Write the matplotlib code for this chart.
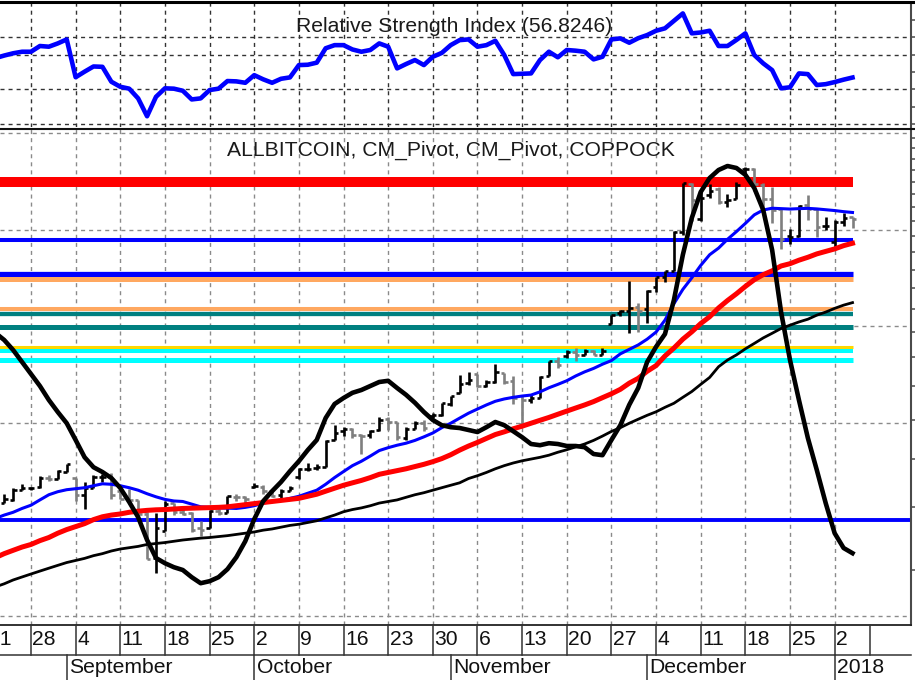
import numpy as np
import pandas as pd
import matplotlib
matplotlib.use("Agg")
import matplotlib.pyplot as plt
from matplotlib.collections import LineCollection
from matplotlib.lines import Line2D
from matplotlib.ticker import FixedLocator, NullLocator, NullFormatter
from matplotlib.transforms import offset_copy

plt.rcParams["font.family"] = ["Liberation Sans", "DejaVu Sans"]

# ---------------- data ----------------
dates = pd.bdate_range("2017-08-21", "2018-01-04")
dates = dates[dates != pd.Timestamp("2018-01-01")]
axis_next_week = pd.Timestamp("2018-01-08")

opens = [4090, 4000, 4090, 4140, 4330, 4380, 4390, 4590, 4570, 4700,
         4590, 4230, 4380, 4600, 4600, 4320, 4170, 4130, 3880, 3170,
         3590, 4080, 3920, 3900, 3630, 3630, 3930, 3890, 4200, 4200,
         4400, 4400, 4310, 4230, 4320, 4610, 4780, 4790, 4830, 5460,
         5690, 5740, 5600, 5580, 5710, 6010, 5940, 5520, 5750, 5900,
         6110, 6130, 6440, 6780, 7090, 7400, 7020, 7140, 7450, 7170,
         5880, 6560, 6630, 7330, 7850, 8040, 8210, 8080, 8230, 8070,
         9350, 9820, 9900, 10080, 10000, 11080, 11600, 11900, 14270, 17800,
         15170, 16920, 17400, 16380, 16600, 19100, 19120, 17760, 16640, 15900,
         14000, 14000, 16160, 15860, 14700, 13620, 14980, 15270]
highs = [4110, 4130, 4250, 4370, 4450, 4400, 4630, 4650, 4750, 4890,
         4590, 4490, 4650, 4660, 4680, 4380, 4350, 4130, 3920, 3900,
         4120, 4090, 4030, 3920, 3760, 3950, 3970, 4210, 4260, 4210,
         4470, 4430, 4350, 4360, 4420, 4790, 4900, 4880, 5450, 5850,
         5790, 5760, 5610, 5720, 6060, 6070, 5940, 5800, 5970, 5990,
         6180, 6470, 6700, 7370, 7460, 7420, 7200, 7770, 7450, 7330,
         6730, 6740, 7330, 7880, 8000, 8270, 8370, 8300, 8270, 8370,
         9720, 9970, 11400, 10270, 10940, 11600, 11920, 14370, 17900, 17900,
         17400, 17780, 17570, 17010, 18000, 19290, 19180, 17940, 17570, 15940,
         14480, 16150, 16930, 15890, 15280, 15100, 15570, 15280]
lows = [3990, 3600, 4080, 4110, 4330, 4330, 4380, 4520, 4570, 4700,
        4110, 3970, 4380, 4500, 4160, 4150, 4060, 3760, 3150, 2950,
        3590, 3870, 3870, 3570, 3510, 3630, 3870, 3890, 4110, 4000,
        4380, 4250, 4200, 4170, 4320, 4560, 4730, 4760, 4830, 5450,
        5570, 5500, 5110, 5520, 5700, 5730, 5450, 5450, 5750, 5690,
        6040, 6100, 6380, 6780, 7040, 6960, 6990, 7120, 7060, 6440,
        5880, 6470, 6630, 7330, 7600, 7980, 7850, 8080, 8090, 8070,
        9350, 9680, 8940, 9000, 9380, 10800, 11340, 11900, 14060, 15000,
        15000, 16690, 16270, 16040, 16600, 18420, 17280, 15660, 14870, 13200,
        13480, 13930, 15110, 13940, 14420, 13240, 14700, 14540]
closes = [4000, 4100, 4150, 4330, 4370, 4380, 4580, 4570, 4740, 4890,
          4230, 4380, 4600, 4600, 4230, 4160, 4130, 3880, 3150, 3640,
          4070, 3920, 3880, 3610, 3600, 3930, 3890, 4210, 4190, 4160,
          4410, 4310, 4210, 4320, 4370, 4770, 4780, 4830, 5430, 5650,
          5750, 5600, 5570, 5700, 6000, 5930, 5530, 5750, 5900, 5780,
          6130, 6470, 6700, 7080, 7210, 7000, 7140, 7460, 7140, 6620,
          6560, 6640, 7320, 7870, 7710, 8200, 8070, 8250, 8100, 8250,
          9720, 9890, 10060, 9900, 10860, 11600, 11900, 14290, 17900, 16570,
          16730, 17280, 16410, 16570, 17710, 19110, 17780, 16620, 15800, 13830,
          13950, 16100, 15840, 14610, 14660, 14980, 15200, 15160]

rsi = [66.5, 68.0, 69.5, 70.8, 71.7, 71.7, 75.0, 74.6, 76.5, 78.8,
       57.0, 60.2, 63.2, 63.0, 54.4, 51.5, 50.4, 44.8, 34.5, 45.7,
       50.6, 50.4, 49.2, 44.2, 44.8, 49.6, 50.4, 54.8, 54.6, 53.8,
       58.2, 55.8, 53.8, 56.1, 56.9, 64.0, 64.2, 65.4, 73.7, 75.5,
       75.5, 73.0, 71.7, 72.7, 76.5, 74.6, 62.1, 64.6, 66.9, 64.0,
       68.8, 71.0, 75.5, 78.4, 78.8, 74.6, 75.5, 78.0, 69.8, 58.8,
       59.0, 59.2, 66.9, 71.7, 68.5, 72.7, 72.3, 71.7, 67.3, 68.8,
       78.8, 79.4, 76.9, 79.5, 81.3, 83.8, 85.2, 89.5, 93.8, 82.3,
       82.8, 83.8, 75.0, 75.0, 78.5, 82.3, 69.8, 65.0, 61.1, 50.6,
       51.2, 59.2, 58.8, 52.5, 53.0, 54.2, 55.6, 56.8246]

ma_fast = [3740, 3800, 3860, 3910, 3980, 4040, 4140, 4240, 4300, 4340,
           4360, 4380, 4420, 4460, 4450, 4420, 4380, 4330, 4260, 4200,
           4150, 4120, 4110, 4060, 4010, 4000, 3990, 3985, 3980, 4000,
           4030, 4080, 4110, 4130, 4170, 4210, 4270, 4330, 4450, 4590,
           4720, 4850, 4950, 5070, 5200, 5270, 5330, 5380, 5450, 5540,
           5640, 5780, 5900, 6040, 6180, 6300, 6420, 6530, 6600, 6650,
           6690, 6720, 6820, 6950, 7060, 7180, 7340, 7480, 7600, 7750,
           7880, 8130, 8300, 8470, 8700, 8990, 9500, 10250, 10950, 11550,
           12230, 12850, 13250, 13800, 14300, 14850, 15450, 15800, 15930, 15900,
           15870, 15900, 15920, 15880, 15820, 15760, 15680, 15620]
ma_mid = [3120, 3170, 3230, 3280, 3330, 3370, 3430, 3480, 3550, 3610,
          3660, 3710, 3780, 3830, 3860, 3880, 3910, 3930, 3945, 3955,
          3960, 3970, 3980, 3985, 3990, 3995, 4000, 4010, 4030, 4050,
          4070, 4090, 4110, 4130, 4150, 4170, 4210, 4250, 4310, 4370,
          4430, 4480, 4530, 4590, 4660, 4700, 4740, 4780, 4830, 4880,
          4940, 5010, 5100, 5210, 5310, 5400, 5500, 5600, 5670, 5750,
          5820, 5900, 5980, 6060, 6150, 6240, 6330, 6420, 6520, 6640,
          6760, 6900, 7100, 7260, 7500, 7700, 8050, 8350, 8700, 9000,
          9350, 9650, 10050, 10400, 10730, 11100, 11450, 11720, 11930, 12200,
          12330, 12530, 12700, 12900, 13050, 13200, 13400, 13550]
ma_slow = [2730, 2770, 2810, 2860, 2900, 2940, 2980, 3020, 3060, 3100,
           3130, 3160, 3200, 3230, 3270, 3300, 3320, 3340, 3370, 3385,
           3400, 3420, 3440, 3455, 3470, 3480, 3495, 3510, 3530, 3550,
           3570, 3600, 3620, 3650, 3680, 3700, 3730, 3760, 3810, 3860,
           3920, 3960, 3990, 4030, 4080, 4110, 4140, 4190, 4240, 4280,
           4330, 4380, 4430, 4480, 4570, 4630, 4700, 4780, 4850, 4910,
           4960, 5000, 5040, 5090, 5160, 5220, 5290, 5360, 5450, 5560,
           5680, 5780, 5900, 6010, 6120, 6220, 6350, 6470, 6650, 6830,
           7060, 7290, 7660, 7900, 8090, 8320, 8530, 8750, 8940, 9140,
           9280, 9420, 9540, 9720, 9860, 10030, 10180, 10300]
coppock = [23.5, 21.8, 20.0, 17.5, 14.5, 11.5, 8.5, 5.0, 2.0, -0.8,
           -5.0, -9.3, -11.8, -13.0, -14.5, -17.0, -20.5, -24.3, -30.0, -34.5,
           -35.8, -36.8, -37.5, -39.3, -40.8, -40.3, -39.3, -37.3, -34.3, -30.3,
           -24.8, -20.3, -17.8, -15.5, -12.8, -10.3, -7.5, -5.0, 0.5, 4.0,
           5.5, 6.8, 7.5, 8.5, 9.5, 9.8, 8.0, 6.3, 4.3, 2.0,
           0.0, -1.3, -1.8, -2.0, -2.5, -3.0, -1.8, -0.5, -1.3, -2.8,
           -4.3, -6.0, -6.3, -5.8, -6.0, -6.5, -6.5, -6.8, -8.5, -8.8,
           -5.0, -1.3, 3.8, 8.0, 14.5, 18.3, 21.5, 30.0, 41.3, 50.5,
           57.0, 60.5, 62.5, 63.5, 63.0, 61.3, 58.0, 52.5, 42.5, 27.0,
           15.0, 5.0, -4.5, -12.5, -20.8, -28.3, -32.0, -33.3]

pivot_levels = [17955, 13772, 11755, 11475, 9985, 9794, 9209, 8377, 8249, 7895]
pivot_colors = ["#ff0000", "#0000ff", "#0000ff", "#ffa860", "#ffa860",
                "#008080", "#008080", "#ffd700", "#00ffff", "#00ffff"]
pivot_widths = [7.2, 2.9, 3.8, 3.6, 2.9, 3.1, 3.6, 2.2, 2.9, 3.6]
support_level = 3770

title_main = "ALLBITCOIN, CM_Pivot, CM_Pivot, COPPOCK"
title_rsi = "Relative Strength Index (56.8246)"

# ---------------- figure ----------------
W, H = 915, 680
fig = plt.figure(figsize=(W / 100, H / 100), dpi=100)
fig.patch.set_facecolor("white")

def fy(p):
    return 1 - p / H

RIGHT = 911 / W
ax_rsi = fig.add_axes([0, fy(127), RIGHT, 124 / H])
ax = fig.add_axes([0, fy(625), RIGHT, 496 / H])
ax_cop = ax.twinx()
ax_dates = fig.add_axes([0, 0, RIGHT, 55 / H])

x = np.arange(len(dates))
xlim = (1.53, 103.55)
FS = 15.2

iso = dates.isocalendar()
week_start = [i for i in range(len(dates))
              if i == 0 or iso.week.iloc[i] != iso.week.iloc[i - 1]]
month_start = [i for i in range(1, len(dates)) if dates[i].month != dates[i - 1].month]
extra_sep = len(dates) + len(pd.bdate_range(dates[-1] + pd.Timedelta(days=1), axis_next_week)) - 1

grid_main = dict(color="#8a8a8a", lw=1.0, ls=(0, (2.9, 2.9)), zorder=0.5)
grid_rsi = dict(color="#333333", lw=1.0, ls=(0, (2.9, 2.9)), zorder=0.5)

# ---------------- RSI panel ----------------
ax_rsi.plot(x, rsi, color="#0000ff", lw=3.3, solid_joinstyle="round", zorder=3)
ax_rsi.set_xlim(*xlim)
ax_rsi.set_ylim(28.3, 99.8)
for lvl in [30, 50, 70, 80]:
    ax_rsi.axhline(lvl, **grid_rsi)
for i in week_start:
    ax_rsi.axvline(i, **grid_rsi)
ax_rsi.text(454 / 911, 1 - (32.3 - 3) / 124, title_rsi, transform=ax_rsi.transAxes,
            ha="center", va="baseline", fontsize=FS, color="#1a1a1a", zorder=5)

# ---------------- price panel ----------------
ax.set_yscale("log")
ax.set_xlim(*xlim)
ax.set_ylim(2323, 22970)
for g in np.geomspace(22545, 2422, 6):
    ax.axhline(g, **grid_main)
for i in week_start:
    ax.axvline(i, **grid_main)

last = x[-1]
for lvl, c, w in zip(pivot_levels, pivot_colors, pivot_widths):
    ax.hlines(lvl, xlim[0] - 1, last, colors=c, lw=w, zorder=1.5)
ax.axhline(support_level, color="#0000ff", lw=2.8, zorder=1.5)

segs, cols = [], []
for i in range(len(dates)):
    prev = closes[i - 1] if i > 0 else opens[i]
    col = "#000000" if closes[i] >= prev else "#7f7f7f"
    segs += [[(i, lows[i]), (i, highs[i])],
             [(i - 0.38, opens[i]), (i, opens[i])],
             [(i, closes[i]), (i + 0.38, closes[i])]]
    cols += [col] * 3
ax.add_collection(LineCollection(segs, colors=cols, linewidths=1.9, zorder=2,
                                 capstyle="butt"))

ax.plot(x, ma_slow, color="#000000", lw=2.0, zorder=3)
ax.plot(x, ma_fast, color="#0000ff", lw=2.2, zorder=3.1)
ax.plot(x, ma_mid, color="#ff0000", lw=3.6, zorder=3.2)

ax_cop.plot(x, coppock, color="#000000", lw=3.3, solid_joinstyle="round", zorder=4)
ax_cop.set_ylim(-51.25, 72.75)
ax_cop.set_xlim(*xlim)
ax_cop.axis("off")

ax.text(451 / 911, 1 - (155.7 - 129) / 496, title_main, transform=ax.transAxes,
        ha="center", va="baseline", fontsize=FS, color="#1a1a1a", zorder=5)

# ---------------- axes styling ----------------
for a in (ax_rsi, ax):
    for s in ("left", "top"):
        a.spines[s].set_visible(False)
    a.spines["right"].set_color("#4a4a4a")
    a.spines["right"].set_linewidth(1.5)
    a.yaxis.tick_right()
    a.tick_params(axis="y", which="both", direction="out", length=3, width=1.1,
                  color="#4a4a4a", labelright=False, labelleft=False, left=False)
    a.tick_params(axis="x", which="both", bottom=False, labelbottom=False)
ax_rsi.spines["bottom"].set_visible(False)
ax.spines["bottom"].set_color("#222222")
ax.spines["bottom"].set_linewidth(1.3)
ax_rsi.yaxis.set_major_locator(FixedLocator(np.arange(30, 100, 10)))
ax_rsi.yaxis.set_minor_locator(NullLocator())
ax.yaxis.set_major_locator(FixedLocator(np.arange(3000, 24000, 1000)))
ax.yaxis.set_minor_locator(NullLocator())
ax.yaxis.set_major_formatter(NullFormatter())
ax.yaxis.set_minor_formatter(NullFormatter())

# frame lines (top border and panel separator)
fig.add_artist(Line2D([0, 1], [fy(1.5), fy(1.5)], transform=fig.transFigure,
                      color="#000000", lw=2.2))
fig.add_artist(Line2D([0, 1], [fy(128.8), fy(128.8)], transform=fig.transFigure,
                      color="#111111", lw=1.5))

# ---------------- date scale ----------------
ax_dates.set_xlim(*xlim)
ax_dates.set_ylim(0, 55)
ax_dates.axis("off")
sep_kw = dict(color="#333333", lw=1.1, clip_on=False)
ax_dates.axhline(25, **sep_kw)
for i in week_start + [extra_sep]:
    ax_dates.plot([i, i], [25, 55], **sep_kw)
for i in month_start:
    ax_dates.plot([i, i], [0, 25], **sep_kw)

tr_day = offset_copy(ax_dates.transData, fig=fig, x=1.5, y=0, units="dots")
tr_mon = offset_copy(ax_dates.transData, fig=fig, x=2.5, y=0, units="dots")
for i in week_start:
    ax_dates.text(i, 35, str(dates[i].day), transform=tr_day, ha="left",
                  va="baseline", fontsize=FS, color="#111111", clip_on=False)
for i in month_start:
    lab = str(dates[i].year) if dates[i].month == 1 else dates[i].strftime("%B")
    ax_dates.text(i, 7, lab, transform=tr_mon, ha="left", va="baseline",
                  fontsize=FS, color="#111111", clip_on=False)

fig.savefig("out.png", dpi=100, facecolor="white")
